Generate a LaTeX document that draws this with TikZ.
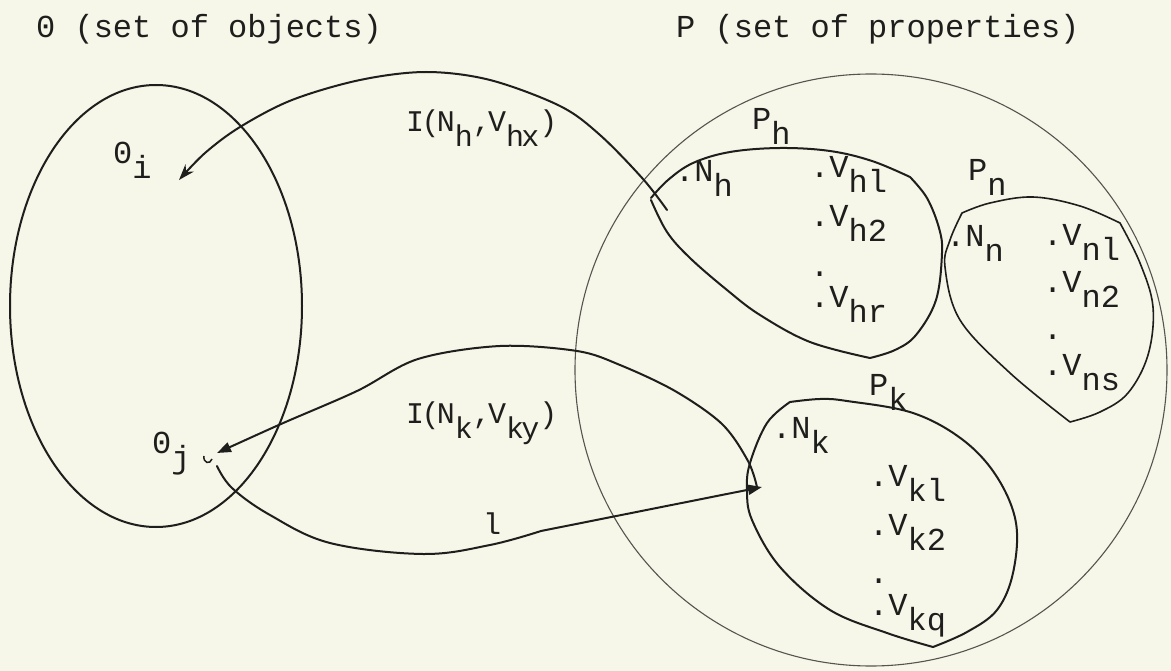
\documentclass[tikz,border=0pt]{standalone}
\usepackage{fontspec}
\newfontfamily\tw{Liberation Mono}
\newfontfamily\twc[LetterSpace=-9]{Liberation Mono}
\usetikzlibrary{arrows.meta}
\definecolor{paper}{RGB}{246,246,233}
\definecolor{ink}{RGB}{30,30,28}
\definecolor{thinink}{RGB}{85,85,80}
\newcommand\sbs[1]{\raisebox{-15pt}{#1}}
\begin{document}
\begin{tikzpicture}[x=1pt,y=-1pt,
  txt/.style={font=\tw\fontsize{32}{36}\selectfont, text=ink, inner sep=0pt, anchor=base west},
  lbl/.style={txt, font=\twc\fontsize{30}{34}\selectfont},
  line/.style={draw=ink, line width=2pt, line cap=round, line join=round},
  thinline/.style={draw=ink, line width=1.6pt, line cap=round, line join=round},
  circ/.style={draw=thinink, line width=1.1pt},
  arrS/.style={line, -{Stealth[length=16pt,width=11pt]}},
  arrT/.style={line, -{Triangle[length=14pt,width=10pt]}}]
\fill[paper] (0,0) rectangle (1171,671);
\useasboundingbox (0,0) rectangle (1171,671);

% titles
\node[txt] (t0) at (36,38) {0 (set of objects)};
\node[txt] (tP) at (676,38) {P (set of properties)};

% set O
\draw[line] (156,306) ellipse [x radius=146, y radius=221];
% set P
\draw[circ] (871,370) circle [radius=296];

% P_h
\draw[line] plot[smooth,tension=0.6] coordinates {(651,198) (668,180) (693,163) (730,152) (780,148) (830,151) (872,161) (910,177)}
  -- plot[smooth,tension=0.6] coordinates {(910,177) (927,198) (939,228) (942,253) (936,300) (916,335) (895,350) (870,358)}
  -- plot[smooth,tension=0.6] coordinates {(870,358) (810,342) (760,315) (727,290) (690,258) (667,232) (651,200)};
% P_n
\draw[thinline] plot[smooth,tension=0.6] coordinates {(962,213) (990,203) (1033,197) (1080,206) (1120,223)}
  -- plot[smooth,tension=0.6] coordinates {(1120,223) (1140,263) (1153,307) (1148,355) (1128,393) (1100,412) (1070,422)}
  -- plot[smooth,tension=0.6] coordinates {(1070,422) (1010,373) (960,320) (945,267) (950,240) (962,213)};
% P_k
\draw[line] plot[smooth,tension=0.6] coordinates {(790,402) (820,399) (847,401) (913,413) (963,440) (997,477) (1016,523) (1013,573) (997,610) (967,632) (933,647)}
  -- plot[smooth,tension=0.6] coordinates {(933,647) (887,633) (830,610) (780,567) (752,520) (747,490) (750,463) (767,423) (790,402)};

% labels in O
\node[txt] (oi) at (113,164) {0\sbs{i}};
\node[txt] (oj) at (152,453) {0\sbs{j}};

% labels in P_h
\node[txt] (ph) at (752,130) {P\sbs{h}};
\node[txt] (nh) at (675,182) {.N\sbs{h}};
\node[txt] (vh1) at (810,178) {.V\sbs{hl}};
\node[txt] (vh2) at (810,227) {.V\sbs{h2}};
\node[txt] (vhd) at (810,277) {.};
\node[txt] (vhr) at (810,308) {.V\sbs{hr}};
% labels in P_n
\node[txt] (pn) at (968,181) {P\sbs{n}};
\node[txt] (nn) at (946,247) {.N\sbs{n}};
\node[txt] (vn1) at (1043,246) {.V\sbs{nl}};
\node[txt] (vn2) at (1043,293) {.V\sbs{n2}};
\node[txt] (vnd) at (1043,340) {.};
\node[txt] (vns) at (1043,375) {.V\sbs{ns}};
% labels in P_k
\node[txt] (pk) at (869,395) {P\sbs{k}};
\node[txt] (nk) at (772,438) {.N\sbs{k}};
\node[txt] (vk1) at (869,486) {.V\sbs{kl}};
\node[txt] (vk2) at (869,535) {.V\sbs{k2}};
\node[txt] (vkd) at (869,583) {.};
\node[txt] (vkq) at (869,615) {.V\sbs{kq}};

% connector end points
\coordinate (Oi) at (179,180);
\coordinate (Oj) at (217,453);
\coordinate (Ojs) at (217,466);
\coordinate (Htail) at (667,210);
\coordinate (Ktail) at (757,487);
\coordinate (Khead) at (762,487);

% connectors
\draw[arrS] plot[smooth,tension=0.55] coordinates {(Htail) (643,179) (600,135) (560,106) (490,80) (426,72) (360,80) (292,100) (240,127) (205,153) (Oi)};
\draw[arrT] plot[smooth,tension=0.55] coordinates {(Ktail) (748,461) (722,424) (675,391) (620,365) (577,351) (500,346) (418,359) (357,391) (281,424) (Oj)};
\draw[arrT] plot[smooth,tension=0.6] coordinates {(Ojs) (232,488) (270,515) (330,543) (423,554) (490,545) (541,531)} -- (Khead);
\draw[ink, line width=1.5pt] (204,456) .. controls (203,463) and (210,465) .. (212,459);

% connector labels
\node[lbl] (lh) at (406,132) {I(N\sbs{h},V\sbs{hx})};
\node[lbl] (lk) at (406,423) {I(N\sbs{k},V\sbs{ky})};
\node[lbl] (ll) at (483,534) {l};
\end{tikzpicture}
\end{document}
